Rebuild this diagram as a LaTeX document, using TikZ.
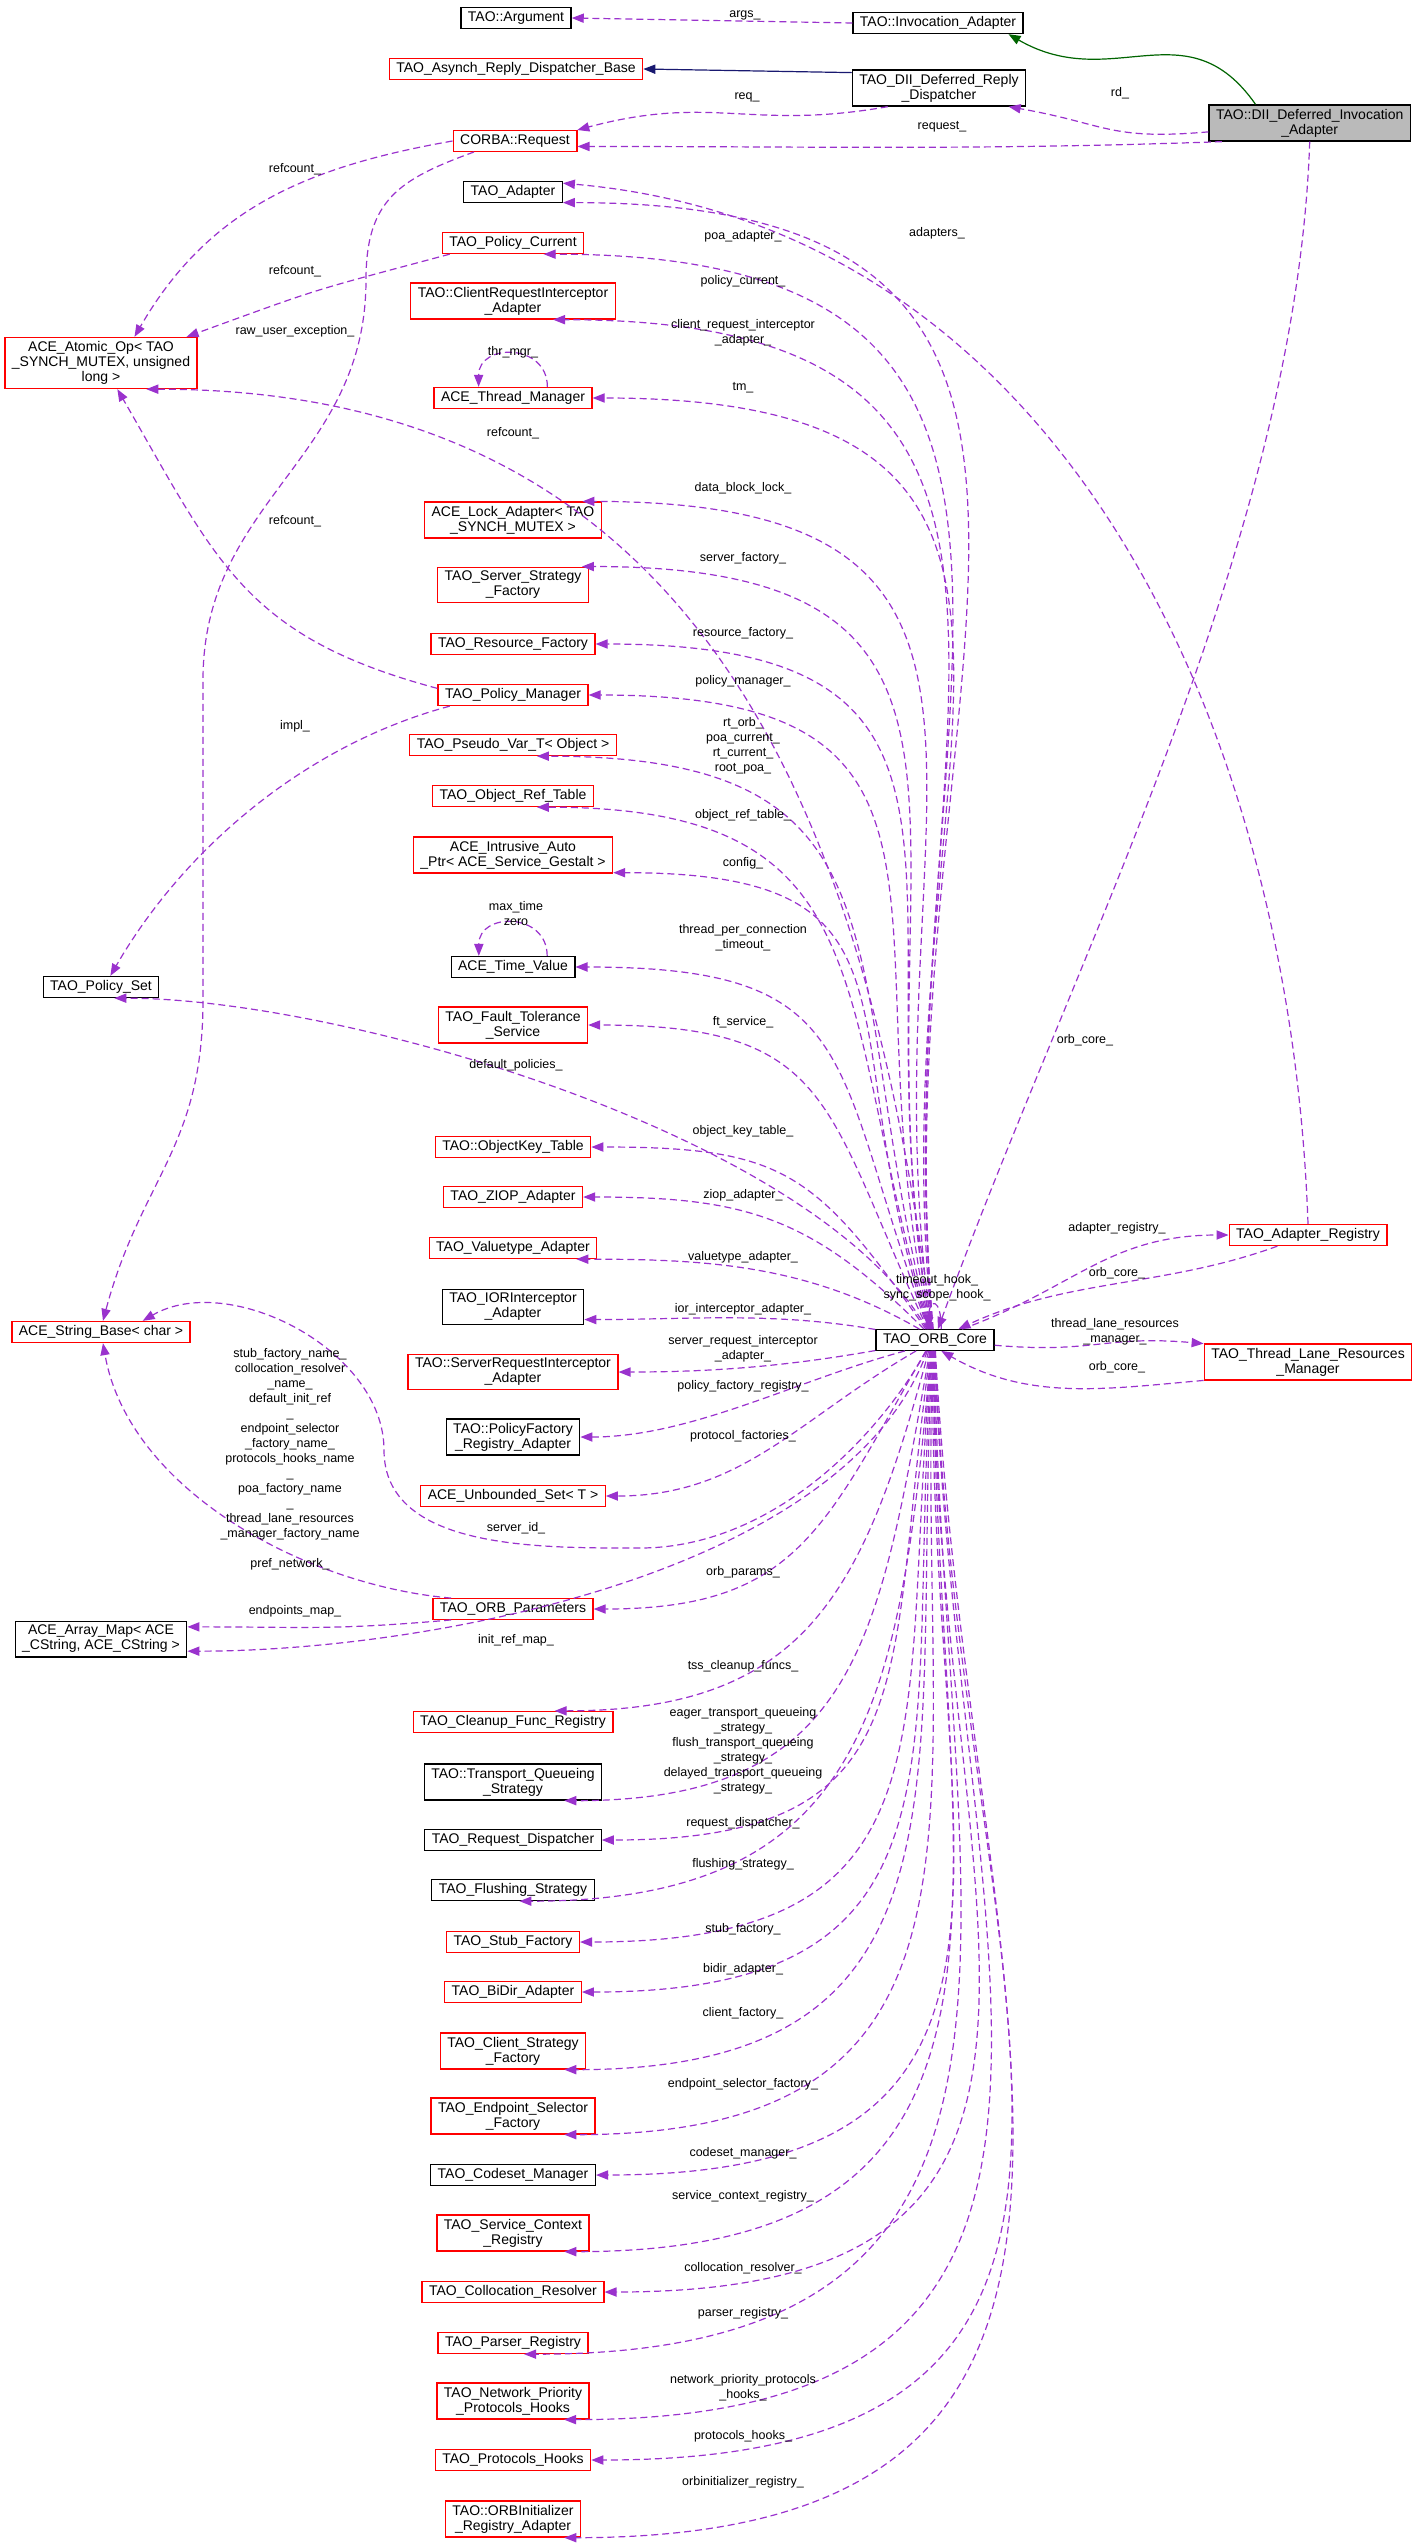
\documentclass[tikz,border=0pt]{standalone}
\usepackage{fontspec}
\setmainfont{Liberation Sans}
\usetikzlibrary{arrows.meta}
\definecolor{memberclr}{HTML}{9A32CD}
\definecolor{inhclr}{HTML}{006400}
\definecolor{baseclr}{HTML}{191970}
\begin{document}
\catcode`\_=12
\begin{tikzpicture}
	[x=0.25pt, y=0.25pt,
	every node/.style={font=\fontsize{3.5}{3.75}\selectfont, align=center, inner xsep=1.75pt, inner ysep=1pt},
	klass/.style={draw=black, line width=0.32pt},
	klassred/.style={draw=red, line width=0.32pt},
	klassmain/.style={draw=black, fill=black!27, line width=0.32pt},
	role/.style={font=\fontsize{3.125}{3.75}\selectfont, inner sep=0pt},
	member/.style={draw=memberclr, line width=0.3pt, dash pattern=on 1.75pt off 1pt, -{Triangle[length=3pt,width=2.3pt]}},
	inherit/.style={draw=inhclr, line width=0.3pt, -{Triangle[length=3pt,width=2.3pt]}},
	baseinherit/.style={draw=baseclr, line width=0.3pt, -{Triangle[length=3pt,width=2.3pt]}},
	]
	\useasboundingbox (0,0) rectangle (1413,-2548);

	% top of the graph
	\node[klass] (arg) at (516,-18) {TAO::Argument};
	\node[klass] (inv) at (938,-23) {TAO::Invocation_Adapter};
	\node[klassred] (arb) at (516,-69) {TAO_Asynch_Reply_Dispatcher_Base};
	\node[klass] (drd) at (939,-88) {TAO_DII_Deferred_Reply\\_Dispatcher};
	\node[klassmain, anchor=east] (dia) at (1411,-123) {TAO::DII_Deferred_Invocation\\_Adapter};
	\node[klassred] (req) at (515,-141) {CORBA::Request};

	% left columns
	\node[klassred] (atomic) at (101,-363) {ACE_Atomic_Op< TAO\\_SYNCH_MUTEX, unsigned\\long >};
	\node[klass] (ps) at (101,-987) {TAO_Policy_Set};
	\node[klassred] (sb) at (101,-1332) {ACE_String_Base< char >};
	\node[klass] (am) at (101,-1639) {ACE_Array_Map< ACE\\_CString, ACE_CString >};

	\node[klass] (adapter) at (513,-192) {TAO_Adapter};
	\node[klassred] (pcur) at (513,-243) {TAO_Policy_Current};
	\node[klassred] (cri) at (513,-301) {TAO::ClientRequestInterceptor\\_Adapter};
	\node[klassred] (tm) at (513,-398) {ACE_Thread_Manager};
	\node[klassred] (lock) at (513,-520) {ACE_Lock_Adapter< TAO\\_SYNCH_MUTEX >};
	\node[klassred] (sstrat) at (513,-585) {TAO_Server_Strategy\\_Factory};
	\node[klassred] (resf) at (513,-644) {TAO_Resource_Factory};
	\node[klassred] (pm) at (513,-695) {TAO_Policy_Manager};
	\node[klassred] (pvar) at (513,-745) {TAO_Pseudo_Var_T< Object >};
	\node[klassred] (ort) at (513,-796) {TAO_Object_Ref_Table};
	\node[klassred] (iap) at (513,-855) {ACE_Intrusive_Auto\\_Ptr< ACE_Service_Gestalt >};
	\node[klass] (tv) at (513,-967) {ACE_Time_Value};
	\node[klassred] (fts) at (513,-1025) {TAO_Fault_Tolerance\\_Service};
	\node[klassred] (okt) at (513,-1147) {TAO::ObjectKey_Table};
	\node[klassred] (ziop) at (513,-1197) {TAO_ZIOP_Adapter};
	\node[klassred] (vta) at (513,-1248) {TAO_Valuetype_Adapter};
	\node[klass] (iori) at (513,-1307) {TAO_IORInterceptor\\_Adapter};
	\node[klassred] (sri) at (513,-1372) {TAO::ServerRequestInterceptor\\_Adapter};
	\node[klass] (pfr) at (513,-1437) {TAO::PolicyFactory\\_Registry_Adapter};
	\node[klassred] (uset) at (513,-1496) {ACE_Unbounded_Set< T >};
	\node[klassred] (op) at (513,-1609) {TAO_ORB_Parameters};
	\node[klassred] (cfr) at (513,-1722) {TAO_Cleanup_Func_Registry};
	\node[klass] (tqs) at (513,-1782) {TAO::Transport_Queueing\\_Strategy};
	\node[klass] (rd) at (513,-1840) {TAO_Request_Dispatcher};
	\node[klass] (fs) at (513,-1890) {TAO_Flushing_Strategy};
	\node[klassred] (sf) at (513,-1942) {TAO_Stub_Factory};
	\node[klassred] (bidir) at (513,-1992) {TAO_BiDir_Adapter};
	\node[klassred] (csf) at (513,-2051) {TAO_Client_Strategy\\_Factory};
	\node[klassred] (esf) at (513,-2116) {TAO_Endpoint_Selector\\_Factory};
	\node[klass] (csm) at (513,-2175) {TAO_Codeset_Manager};
	\node[klassred] (scr) at (513,-2233) {TAO_Service_Context\\_Registry};
	\node[klassred] (cr) at (513,-2292) {TAO_Collocation_Resolver};
	\node[klassred] (preg) at (513,-2343) {TAO_Parser_Registry};
	\node[klassred] (npph) at (513,-2401) {TAO_Network_Priority\\_Protocols_Hooks};
	\node[klassred] (ph) at (513,-2460) {TAO_Protocols_Hooks};
	\node[klassred] (orbi) at (513,-2519) {TAO::ORBInitializer\\_Registry_Adapter};

	% right side
	\node[klass] (core) at (935,-1340) {TAO_ORB_Core};
	\node[klassred] (ar) at (1308,-1235) {TAO_Adapter_Registry};
	\node[klassred] (tlr) at (1308,-1362) {TAO_Thread_Lane_Resources\\_Manager};

	% inheritance
	\draw[inherit] (dia.161) to[out=125,in=-30,distance=30pt] (inv.-9);
	\draw[baseinherit] (drd.170) -- (arb.east);

	% members of the top classes
	\draw[member] (inv.west) -- (arg.east);
	\node[role] (largs) at (745,-15) {args_};
	\draw[member] (drd.200) to[out=190,in=15,distance=35pt] (req.10);
	\node[role] (lreq) at (747,-97) {req_};
	\draw[member] (dia.185) to[out=185,in=-10,distance=25pt] (drd.-15);
	\node[role] (lrd) at (1120,-93) {rd_};
	\draw[member] (dia.192) to[out=182,in=0,distance=62pt] (req.-5);
	\node[role] (lrequest) at (942,-127) {request_};
	\draw[member] (dia.-90) to[out=-92,in=70,distance=100pt] (core.75);
	\node[role] (lorbdia) at (1085,-1040) {orb_core_};
	\draw[member] (req.west) to[out=190,in=60,distance=37pt] (atomic.38);
	\node[role] (lref1) at (295,-169) {refcount_};
	\draw[member] (req.195) to[out=200,in=90,distance=20pt] (366,-280) to[out=-90,in=90,distance=45pt] (203,-680)
		-- (203,-1000) to[out=-90,in=75,distance=37pt] (sb.80);
	\node[role] (lraw) at (295,-331) {raw_user_exception_};
	\draw[member] (pcur.190) to[out=195,in=20,distance=37pt] (atomic.17);
	\node[role] (lref2) at (295,-271) {refcount_};
	\draw[member] (pm.175) to[out=165,in=-60,distance=50pt] (atomic.-58);
	\node[role] (lref3) at (295,-521) {refcount_};
	\draw[member] (pm.190) to[out=195,in=60,distance=37pt] (ps.50);
	\node[role] (limpl) at (295,-726) {impl_};
	\draw[member] (tm.18) to[out=90,in=90,distance=11pt] (tm.162);
	\node[role] (lthr) at (513,-352) {thr_mgr_};
	\draw[member] (tv.18) to[out=90,in=90,distance=11pt] (tv.162);
	\node[role] (ltv) at (516,-914) {max_time\\zero};
	\draw[member] (ar.north) to[out=92,in=-5,distance=125pt] (adapter.10);
	\node[role] (ladapters) at (937,-233) {adapters_};

	% members of the ORB core
	\foreach \t/\a/\s/\o/\lx/\ly/\lab in {
		adapter/-12/100/95/743/236/poa_adapter_,
		pcur/-20/100/95/743/281/policy_current_,
		cri/-25/102/95/743/333/{client_request_interceptor\\_adapter_},
		tm/0/104/96/743/388/tm_,
		atomic/-30/106/97/513/433/refcount_,
		lock/15/108/98/743/488/data_block_lock_,
		sstrat/15/110/100/743/558/server_factory_,
		resf/0/112/100/743/633/resource_factory_,
		pm/0/114/102/743/681/policy_manager_,
		pvar/-25/116/104/743/746/{rt_orb_\\poa_current_\\rt_current_\\root_poa_},
		ort/-25/118/106/743/815/object_ref_table_,
		iap/-10/120/108/743/863/config_,
		tv/0/122/110/743/938/{thread_per_connection\\_timeout_},
		fts/0/124/115/743/1022/ft_service_,
		ps/-40/126/120/516/1065/default_policies_,
		okt/0/130/125/743/1131/object_key_table_,
		ziop/0/135/135/743/1195/ziop_adapter_,
		vta/-10/145/150/743/1257/valuetype_adapter_,
		iori/-10/170/170/743/1309/ior_interceptor_adapter_,
		sri/0/190/190/743/1349/{server_request_interceptor\\_adapter_},
		pfr/0/200/195/743/1386/policy_factory_registry_,
		uset/0/210/210/743/1436/protocol_factories_,
		op/0/230/240/743/1572/orb_params_,
		am/-8/235/250/516/1640/init_ref_map_,
		cfr/15/240/255/743/1666/tss_cleanup_funcs_,
		tqs/-20/245/260/743/1751/{eager_transport_queueing\\_strategy_\\flush_transport_queueing\\_strategy_\\delayed_transport_queueing\\_strategy_},
		rd/0/248/262/743/1823/request_dispatcher_,
		fs/-60/250/265/743/1864/flushing_strategy_,
		sf/0/252/265/743/1929/stub_factory_,
		bidir/0/254/266/743/1969/bidir_adapter_,
		csf/-20/256/267/743/2013/client_factory_,
		esf/-20/258/268/743/2084/endpoint_selector_factory_,
		csm/0/260/269/743/2153/codeset_manager_,
		scr/-20/262/270/743/2196/service_context_registry_,
		cr/0/264/270/743/2268/collocation_resolver_,
		preg/-45/266/271/743/2313/parser_registry_,
		npph/-20/268/272/743/2388/{network_priority_protocols\\_hooks_},
		ph/0/270/272/743/2436/protocols_hooks_,
		orbi/-20/272/273/743/2482/orbinitializer_registry_}
	{
		\pgfmathsetmacro\dd{abs(1340-\ly)*0.125+22}
		\draw[member] (core.\s) to[out=\o,in=0,distance=\dd pt] (\t.\a);
		\node[role] (l\t) at (\lx,-\ly) {\lab};
	}
	\draw[member] (core.232) to[out=240,in=0,distance=30pt] (640,-1548) to[out=180,in=-90,distance=25pt] (384,-1450)
		to[out=90,in=30,distance=25pt] (sb.15);
	\node[role] (lsid) at (516,-1528) {server_id_};
	\draw[member] (core.60) to[out=90,in=90,distance=8pt] (core.120);
	\node[role] (lhook) at (937,-1288) {timeout_hook_\\sync_scope_hook_};

	% members of the ORB parameters
	\draw[member] (op.170) to[out=175,in=-80,distance=37pt] (sb.-80);
	\node[role] (lnames) at (290,-1459) {stub_factory_name_\\collocation_resolver\\_name_\\default_init_ref\\_\\endpoint_selector\\_factory_name_\\protocols_hooks_name\\_\\poa_factory_name\\_\\thread_lane_resources\\_manager_factory_name\\ \\pref_network_};
	\draw[member] (op.190) to[out=185,in=0,distance=30pt] (am.8);
	\node[role] (lepm) at (295,-1611) {endpoints_map_};

	% adapter registry and lane resources
	\draw[member] (core.22) to[out=20,in=180,distance=30pt] (ar.west);
	\node[role] (lareg) at (1117,-1228) {adapter_registry_};
	\draw[member] (ar.200) to[out=200,in=25,distance=30pt] (core.25);
	\node[role] (lorbar) at (1117,-1273) {orb_core_};
	\draw[member] (core.-5) to[out=-5,in=175,distance=25pt] (tlr.170);
	\node[role] (ltlr) at (1115,-1332) {thread_lane_resources\\_manager_};
	\draw[member] (tlr.190) to[out=185,in=-30,distance=25pt] (core.-60);
	\node[role] (lorbtlr) at (1117,-1367) {orb_core_};
\end{tikzpicture}
\end{document}
